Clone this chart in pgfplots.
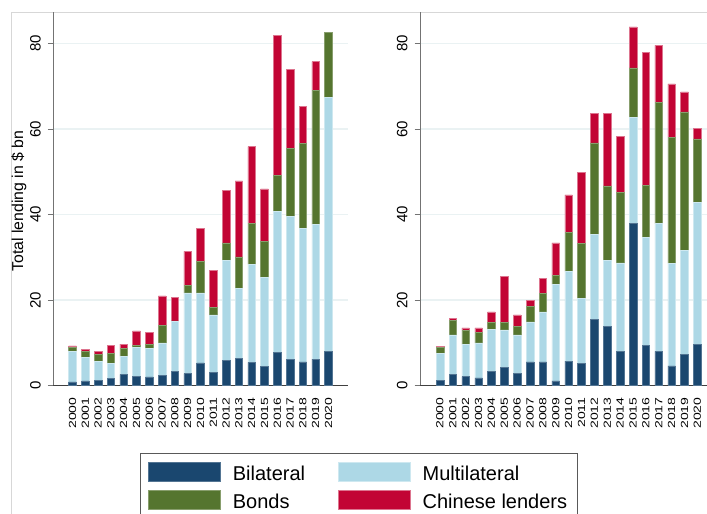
\documentclass[border=0pt]{standalone}
\usepackage{fontspec}
\setmainfont{Liberation Sans}
\usepackage{pgfplots}
\usepackage{pgfplotstable}
\pgfplotsset{compat=1.18}

\definecolor{bilat}{RGB}{26,71,111}
\definecolor{multi}{RGB}{173,216,230}
\definecolor{bonds}{RGB}{85,117,47}
\definecolor{chinese}{RGB}{194,4,52}
\definecolor{gridc}{RGB}{234,242,243}
\definecolor{framec}{RGB}{215,215,215}

% Lending by creditor type, 2000-2020 (x = year - 2000)
\pgfplotstableread{
x bil  multi bonds chin
0  0.86 7.14  0.9   0.4
1  1.1  5.4   1.5   0.4
2  1.25 4.35  1.6   0.7
3  1.6  3.6   2.4   1.8
4  2.6  4.3   1.7   1.1
5  2.2  6.8   0.4   3.4
6  2.0  6.6   1.0   2.9
7  2.4  7.6   4.1   6.9
8  3.35 11.65 0.1   5.6
9  2.8  18.9  1.7   8.0
10 5.3  16.4  7.3   7.7
11 3.0  13.5  1.7   8.7
12 5.8  23.5  4.1   12.3
13 6.3  16.5  7.3   17.8
14 5.4  23.0  9.6   17.9
15 4.4  20.9  8.4   12.3
16 7.7  33.0  8.4   32.9
17 6.2  33.3  16.0  18.5
18 5.5  31.2  19.9  8.8
19 6.2  31.5  31.3  6.8
20 8.0  59.5  15.1  0
}\leftdata

\pgfplotstableread{
x bil  multi bonds chin
0  1.25 6.35  1.3   0.2
1  2.6  9.25  3.35  0.55
2  2.1  7.5   3.3   0.6
3  1.8  8.2   2.4   1.1
4  3.35 9.85  1.5   2.5
5  4.3  8.7   1.7   10.9
6  2.8  9.05  1.95  2.7
7  5.5  9.4   3.6   1.5
8  5.5  11.7  4.3   3.5
9  1.1  22.6  2.0   7.7
10 5.7  21.0  9.1   8.8
11 5.1  15.2  13.0  16.5
12 15.5 19.9  21.4  6.8
13 13.8 15.5  17.4  17.0
14 8.0  20.7  16.5  13.1
15 38.0 24.8  11.5  9.6
16 9.4  25.3  12.2  31.1
17 8.0  29.9  28.4  13.3
18 4.6  24.0  29.4  12.6
19 7.2  24.4  32.4  4.7
20 9.7  33.1  14.9  2.5
}\rightdata

\pgfplotsset{
  panel/.style={
    scale only axis,
    height=373.5pt,
    ybar stacked,
    bar width=7.6pt,
    ymin=0, ymax=87.4,
    axis x line*=bottom,
    axis y line*=left,
    x axis line style={black!75, line width=0.8pt, -},
    y axis line style={black!55, line width=0.8pt, -},
    ytick={0,20,40,60,80},
    /pgf/number format/assume math mode=true,
    ymajorgrids,
    grid style={gridc, line width=1.5pt},
    xtick={0,...,20},
    xticklabel={\pgfmathparse{int(2000+\tick)}\pgfmathresult},
    tick align=outside,
    major tick length=5.3pt,
    x tick style={draw=none},
    y tick style={black!55, line width=0.8pt},
    yticklabel style={rotate=90, anchor=south, inner sep=0pt,
                      font=\fontsize{15}{18}\selectfont},
    xticklabel style={rotate=90, anchor=east, inner sep=0pt, xscale=1.36,
                      font=\fontsize{10.3}{12}\selectfont},
    xticklabel shift=6.5pt,
    yticklabel shift=7pt,
  },
  swatch/.style={legend image code/.code={%
      \path[##1, line width=0.5pt] (0pt,-7.3pt) rectangle (72pt,11.5pt);}},
  sbil/.style={fill=bilat, draw=bilat!75!white, line width=0.5pt, swatch},
  smul/.style={fill=multi, draw=multi!60!white, line width=0.5pt, swatch},
  sbon/.style={fill=bonds, draw=bonds!70!white, line width=0.5pt, swatch},
  schi/.style={fill=chinese, draw=chinese!55!white, line width=0.5pt, swatch},
}

\begin{document}
\begin{tikzpicture}
\useasboundingbox (0,0) rectangle (707pt,514pt);
\fill[white] (0,0) rectangle (707pt,514pt);
\draw[framec, line width=0.8pt] (11pt,0pt) -- (11pt,502pt) -- (707pt,502pt);

\begin{axis}[panel,
  at={(53.3pt,128.5pt)}, anchor=south west,
  width=294.4pt, xmin=-1.5, xmax=21.5,
  ylabel={Total lending in \$ bn},
  every axis y label/.style={at={(axis description cs:-0.0904,0.494)},
    rotate=90, anchor=south, inner sep=0pt,
    font=\fontsize{15.8}{18}\selectfont},
  legend columns=2,
  legend cell align=left,
  legend style={at={(axis description cs:0.2945,-0.18)}, anchor=north west,
    draw=black!65, line width=0.8pt, inner xsep=8pt, inner ysep=8.7pt,
    font=\fontsize{20}{24}\selectfont, row sep=6.4pt,
    /tikz/every odd column/.append style={column sep=10pt},
    /tikz/every even column/.append style={column sep=31pt}},
]
\addplot[sbil] table[x=x, y=bil]   {\leftdata};
\addplot[smul] table[x=x, y=multi] {\leftdata};
\addplot[sbon] table[x=x, y=bonds] {\leftdata};
\addplot[schi] table[x=x, y=chin]  {\leftdata};
\legend{Bilateral, Multilateral, Bonds, Chinese lenders}
\end{axis}

\begin{axis}[panel,
  at={(420pt,128.5pt)}, anchor=south west,
  width=287pt, xmin=-1.55, xmax=20.75,
]
\addplot[sbil] table[x=x, y=bil]   {\rightdata};
\addplot[smul] table[x=x, y=multi] {\rightdata};
\addplot[sbon] table[x=x, y=bonds] {\rightdata};
\addplot[schi] table[x=x, y=chin]  {\rightdata};
\end{axis}
\end{tikzpicture}
\end{document}
